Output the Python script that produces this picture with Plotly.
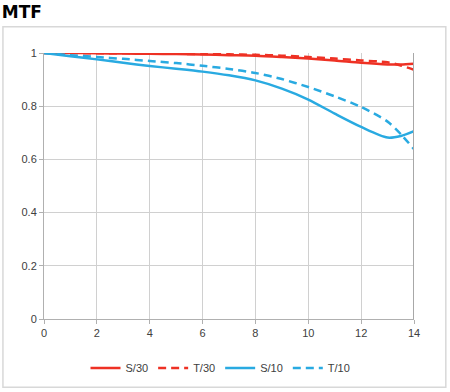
import plotly.graph_objects as go

x_vals = [0, 1, 2, 3, 4, 5, 6, 7, 8, 9, 10, 11, 12, 13, 13.5, 14]
s30 = [1.0, 1.0, 0.999, 0.998, 0.997, 0.996, 0.994, 0.992, 0.990, 0.985, 0.979, 0.972, 0.963, 0.957, 0.957, 0.960]
t30 = [1.0, 1.0, 0.999, 0.999, 0.998, 0.997, 0.996, 0.995, 0.993, 0.990, 0.985, 0.979, 0.972, 0.965, 0.953, 0.937]
s10 = [1.0, 0.988, 0.976, 0.963, 0.951, 0.941, 0.930, 0.916, 0.897, 0.866, 0.825, 0.772, 0.722, 0.682, 0.688, 0.706]
t10 = [1.0, 0.992, 0.985, 0.978, 0.970, 0.962, 0.952, 0.940, 0.925, 0.902, 0.872, 0.837, 0.797, 0.742, 0.695, 0.638]

x_ticks = [0, 2, 4, 6, 8, 10, 12, 14]
y_ticks = [0, 0.2, 0.4, 0.6, 0.8, 1]
y_labels = ["0", "0.2", "0.4", "0.6", "0.8", "1"]

RED = "#ee3124"
BLUE = "#29aae1"

fig = go.Figure()
series = [
    ("S/30", s30, RED, "solid"),
    ("T/30", t30, RED, "8px,5px"),
    ("S/10", s10, BLUE, "solid"),
    ("T/10", t10, BLUE, "8px,5px"),
]
for name, ys, col, dash in series:
    fig.add_trace(go.Scatter(
        x=x_vals, y=ys, name=name, mode="lines",
        line=dict(color=col, width=2.5, dash=dash, shape="spline", smoothing=0.8),
    ))

fig.update_layout(
    width=450, height=392,
    margin=dict(l=44, r=36, t=53, b=73, autoexpand=False),
    paper_bgcolor="white", plot_bgcolor="white",
    font=dict(family="Liberation Sans, Arial, sans-serif", size=11, color="#404040"),
    title=dict(text="<b>MTF</b>", xref="container", yref="container", x=0.004, y=0.97,
               xanchor="left", yanchor="middle",
               font=dict(family="DejaVu Sans", size=17, color="black")),
    showlegend=True,
    legend=dict(orientation="h", xref="container", yref="container", x=0.49, y=0.061,
                xanchor="center", yanchor="middle",
                font=dict(size=11, color="#404040"), itemwidth=30, tracegroupgap=0),
    xaxis=dict(range=[0, 14], tickvals=x_ticks, showgrid=True, gridcolor="#d0d0d0",
               gridwidth=1, showline=True, linecolor="#b0b0b0", linewidth=1,
               ticks="outside", ticklen=4, tickcolor="#b0b0b0", zeroline=False,
               mirror=False, fixedrange=True),
    yaxis=dict(range=[0, 1], tickvals=y_ticks, ticktext=y_labels, showgrid=True,
               gridcolor="#d0d0d0", gridwidth=1, showline=True, linecolor="#b0b0b0",
               linewidth=1, ticks="outside", ticklen=4, tickcolor="#b0b0b0",
               zeroline=False, fixedrange=True),
    shapes=[
        dict(type="line", xref="x", yref="paper", x0=14, x1=14, y0=0, y1=1,
             line=dict(color="#a8a8a8", width=2)),
        dict(type="rect", xref="paper", yref="paper", x0=-0.111, x1=1.086, y0=-0.257, y1=1.099,
             line=dict(color="#d8d8d8", width=1.5), fillcolor="rgba(0,0,0,0)", layer="below"),
    ],
)

fig.write_html("out.html", config={"displayModeBar": False},
               post_script="document.body.style.margin='0';")
